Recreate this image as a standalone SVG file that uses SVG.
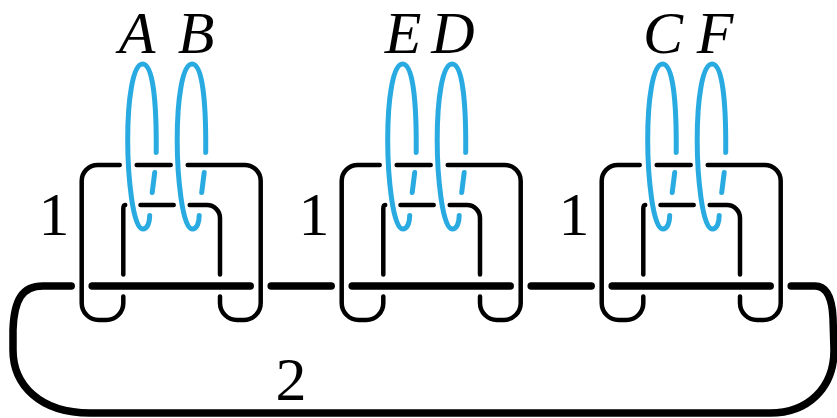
<svg xmlns="http://www.w3.org/2000/svg" width="837" height="418" viewBox="0 0 837 418">
<style>
.thin{fill:none;stroke:#000;stroke-width:4.5;stroke-linecap:round;stroke-linejoin:round}
.thick{fill:none;stroke:#000;stroke-width:7.5;stroke-linecap:round;stroke-linejoin:round}
.blue{fill:none;stroke:#29abe2;stroke-width:5;stroke-linecap:round}
.lbl{font-family:"Liberation Serif",serif;font-style:italic;font-size:60px;text-anchor:middle;fill:#000}
.num{font-family:"Liberation Serif",serif;font-size:62px;text-anchor:middle;fill:#000}
</style>
<defs>
<g id="clasp">
<path class="thin" d="M41.6,274.5 L41.6,209 Q41.6,205 43.5,205"/>
<path class="thin" d="M41.6,296.5 L41.6,303 A17,17 0 0 1 24.6,320 L17,320 A17,17 0 0 1 0,303 L0,181 A16,16 0 0 1 16,165 L38,165"/>
<path class="thin" d="M55,165 L89,165"/>
<path class="thin" d="M106,165 L163,165 A16,16 0 0 1 179,181 L179,303 A17,17 0 0 1 162,320 L155.3,320 A17,17 0 0 1 138.3,303 L138.3,296.5"/>
<path class="thin" d="M138.3,274.5 L138.3,218 A13,13 0 0 0 125.3,205 L108,205"/>
<path class="thin" d="M92,205 L58.8,205"/>
</g>
<g id="ring1">
<path class="blue" d="M74.5,152.5 C75,100 71,64 61,64 C51,64 46,100 46,140 C46,175 51,229 61,229 C66,229 68,222 68,215.5"/>
<path class="blue" d="M73,172.5 L70.5,192.5"/>
</g>
<g id="ring2">
<path class="blue" d="M124,152.5 C124.5,100 120.5,64 110.5,64 C100.5,64 95.5,100 95.5,140 C95.5,175 100.5,229 110.5,229 C115.5,229 117.5,222 117.5,215.5"/>
<path class="blue" d="M122.5,172.5 L120,192.5"/>
</g>
</defs>
<g id="connectors">
<path class="thick" d="M71.2,286 L43,286 C22,286 14,300 13,330 L13,350 C13,385 40,413 90,413 L770,413 C808,413 834,388 834,350 L833,318 C832,296 826,286 815,286 L791.2,286"/>
<path class="thick" d="M92.2,286 L250.2,286"/>
<path class="thick" d="M271.2,286 L331.2,286"/>
<path class="thick" d="M352.2,286 L510.2,286"/>
<path class="thick" d="M531.2,286 L591.2,286"/>
<path class="thick" d="M612.2,286 L770.2,286"/>
<text class="num" x="291" y="400" font-size="70">2</text>
</g>
<g id="clasp-1" transform="translate(81.7,0)">
<use href="#clasp"/>
<use href="#ring1"/>
<use href="#ring2"/>
</g>
<g id="clasp-2" transform="translate(341.7,0)">
<use href="#clasp"/>
<use href="#ring1"/>
<use href="#ring2"/>
</g>
<g id="clasp-3" transform="translate(601.7,0)">
<use href="#clasp"/>
<use href="#ring1"/>
<use href="#ring2"/>
</g>
<g id="labels">
<text class="num" x="54" y="235">1</text>
<text class="num" x="314" y="235">1</text>
<text class="num" x="574" y="235">1</text>
<text class="lbl" x="137" y="53">A</text>
<text class="lbl" x="196" y="53">B</text>
<text class="lbl" x="403" y="53">E</text>
<text class="lbl" x="453" y="53">D</text>
<text class="lbl" x="663" y="53">C</text>
<text class="lbl" x="715" y="53">F</text>
</g>
</svg>
